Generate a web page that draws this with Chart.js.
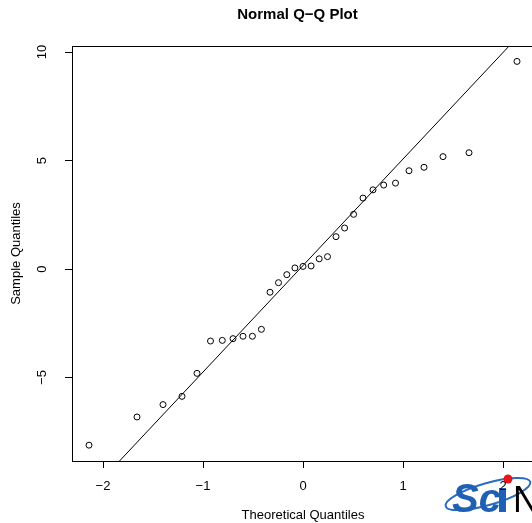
<!DOCTYPE html>
<html>
<head>
<meta charset="utf-8">
<title>Normal Q-Q Plot</title>
<script src="https://cdn.jsdelivr.net/npm/chart.js@4/dist/chart.umd.min.js"></script>
<style>
    html, body { margin: 0; padding: 0; background: #fff; }
    #wrap { width: 532px; height: 523px; overflow: hidden; position: relative; }
    #qqChart { display: block; }
</style>
</head>
<body>
<div id="wrap">
    <canvas id="qqChart" width="540" height="523"></canvas>
</div>
<script>
// theoretical quantiles (x) and the sorted sample values (y)
const theoretical = [-2.14, -1.66, -1.40, -1.21, -1.06, -0.925, -0.807, -0.700, -0.600, -0.506,
    -0.416, -0.330, -0.245, -0.162, -0.081, 0, 0.081, 0.162, 0.245, 0.330,
    0.416, 0.506, 0.600, 0.700, 0.807, 0.925, 1.06, 1.21, 1.40, 1.66, 2.14];
const sample = [-8.12, -6.82, -6.25, -5.87, -4.81, -3.32, -3.29, -3.21, -3.10, -3.10,
    -2.78, -1.07, -0.63, -0.26, 0.05, 0.12, 0.14, 0.47, 0.57, 1.49,
    1.89, 2.52, 3.27, 3.65, 3.87, 3.96, 4.53, 4.69, 5.18, 5.36, 9.57];

// qq reference line
const lineIntercept = 0.16;
const lineSlope = 4.91;

// axis ranges and ticks
const xRange = [-2.31, 2.31];
const yRange = [-8.85, 10.28];
const xTicks = [-2, -1, 0, 1, 2];
const yTicks = [-5, 0, 5, 10];

const FONT = "'Liberation Sans', Arial, Helvetica, sans-serif";

function minus(v) {
    return String(v).replace("-", "\u2212");
}

const points = theoretical.map((x, i) => ({ x: x, y: sample[i] }));
const linePoints = xRange.map(x => ({ x: x, y: lineIntercept + lineSlope * x }));

// watermark logo in the bottom right corner, drawn first so the tick labels sit on top
const logo = {
    id: "logo",
    beforeDraw(chart) {
        const ctx = chart.ctx;
        ctx.save();
        ctx.strokeStyle = "#2a6cc0";
        ctx.lineWidth = 2;
        ctx.beginPath();
        ctx.ellipse(488, 494, 44, 11, -0.28, 0, Math.PI * 2);
        ctx.stroke();
        ctx.fillStyle = "#1f5fb4";
        ctx.font = "italic bold 40px " + FONT;
        ctx.textAlign = "left";
        ctx.textBaseline = "alphabetic";
        ctx.fillText("Sc", 452, 512);
        ctx.fillRect(499, 488, 7, 24);
        ctx.fillStyle = "#e8141c";
        ctx.beginPath();
        ctx.arc(508, 479, 4.5, 0, Math.PI * 2);
        ctx.fill();
        ctx.fillStyle = "#000";
        ctx.font = "36px " + FONT;
        ctx.fillText("N", 513, 512);
        ctx.restore();
    }
};

// box, rotated y labels and the title
const extras = {
    id: "extras",
    afterDraw(chart) {
        const ctx = chart.ctx;
        const a = chart.chartArea;
        const yScale = chart.scales.y;

        ctx.save();
        ctx.strokeStyle = "#000";
        ctx.lineWidth = 1;
        ctx.strokeRect(Math.round(a.left) + 0.5, Math.round(a.top) + 0.5,
            Math.round(a.right - a.left), Math.round(a.bottom - a.top));

        // y tick labels, parallel to the axis like R does
        ctx.fillStyle = "#000";
        ctx.font = "13px " + FONT;
        ctx.textAlign = "center";
        ctx.textBaseline = "middle";
        yTicks.forEach(v => {
            const py = yScale.getPixelForValue(v);
            ctx.save();
            ctx.translate(42, py);
            ctx.rotate(-Math.PI / 2);
            ctx.fillText(minus(v), 0, 0);
            ctx.restore();
        });

        // main title
        ctx.font = "bold 15px " + FONT;
        ctx.fillText("Normal Q\u2212Q Plot", 297.5, 15);
        ctx.restore();
    }
};

const qqChart = new Chart(document.getElementById("qqChart").getContext("2d"), {
    type: "scatter",
    data: {
        datasets: [
            {
                type: "line",
                label: "qqline",
                data: linePoints,
                borderColor: "#000",
                borderWidth: 1,
                pointRadius: 0,
                fill: false
            },
            {
                label: "sample",
                data: points,
                pointRadius: 3,
                pointHoverRadius: 3,
                pointBorderWidth: 1,
                pointBorderColor: "#000",
                pointBackgroundColor: "rgba(0,0,0,0)"
            }
        ]
    },
    options: {
        responsive: false,
        animation: false,
        devicePixelRatio: 1,
        layout: { padding: { left: 0, top: 46, right: 6, bottom: 0 } },
        plugins: {
            legend: { display: false },
            tooltip: { enabled: false }
        },
        scales: {
            x: {
                type: "linear",
                position: "bottom",
                min: xRange[0],
                max: xRange[1],
                afterFit: s => { s.height = 62; },
                afterBuildTicks: s => { s.ticks = xTicks.map(v => ({ value: v })); },
                grid: { drawOnChartArea: false, tickLength: 7, color: "#000" },
                border: { display: false },
                ticks: {
                    padding: 11,
                    color: "#000",
                    font: { family: FONT, size: 13 },
                    callback: v => minus(v)
                },
                title: {
                    display: true,
                    text: "Theoretical Quantiles",
                    color: "#000",
                    font: { family: FONT, size: 13 },
                    padding: { top: 0, bottom: 0 }
                }
            },
            y: {
                type: "linear",
                min: yRange[0],
                max: yRange[1],
                afterFit: s => { s.width = 72; },
                afterBuildTicks: s => { s.ticks = yTicks.map(v => ({ value: v })); },
                grid: { drawOnChartArea: false, tickLength: 7, color: "#000" },
                border: { display: false },
                ticks: { display: false },
                title: {
                    display: true,
                    text: "Sample Quantiles",
                    color: "#000",
                    font: { family: FONT, size: 13 },
                    padding: { top: 9, bottom: 0 }
                }
            }
        }
    },
    plugins: [logo, extras]
});
</script>
</body>
</html>
